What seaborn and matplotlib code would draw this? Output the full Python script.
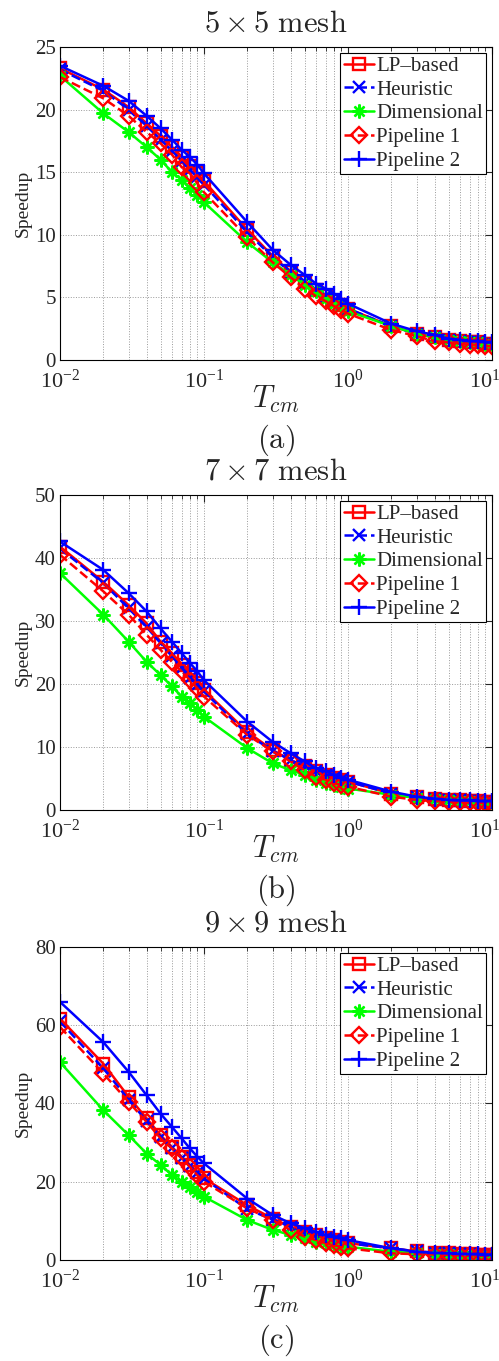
import numpy as np
import pandas as pd
import seaborn as sns
import matplotlib.pyplot as plt
import matplotlib.transforms as mtransforms
from matplotlib.ticker import LogLocator, NullFormatter

# communication time values (x axis)
t_cm = [0.01, 0.02, 0.03, 0.04, 0.05, 0.06, 0.07, 0.08, 0.09, 0.1,
        0.2, 0.3, 0.4, 0.5, 0.6, 0.7, 0.8, 0.9, 1,
        2, 3, 4, 5, 6, 7, 8, 9, 10]

series_names = ['LP\u2013based', 'Heuristic', 'Dimensional', 'Pipeline 1', 'Pipeline 2']

# 5x5 mesh
lp_5 = [23.3, 21.6, 20.2, 18.9, 17.9, 17.0, 16.2, 15.5, 14.9, 14.3,
        10.4, 8.3, 7.0, 6.2, 5.6, 5.1, 4.7, 4.4, 4.1,
        2.7, 2.1, 1.8, 1.6, 1.5, 1.4, 1.4, 1.3, 1.3]
heur_5 = [23.2, 21.5, 20.0, 18.7, 17.6, 16.7, 15.9, 15.2, 14.6, 14.0,
          10.2, 8.2, 7.0, 6.2, 5.6, 5.1, 4.7, 4.4, 4.1,
          2.7, 2.1, 1.8, 1.6, 1.5, 1.4, 1.4, 1.3, 1.3]
dim_5 = [22.7, 19.7, 18.2, 17.0, 16.0, 15.0, 14.4, 13.7, 13.2, 12.6,
         9.4, 7.8, 6.8, 6.0, 5.5, 4.9, 4.5, 4.3, 3.9,
         2.7, 2.1, 1.8, 1.6, 1.5, 1.4, 1.4, 1.3, 1.3]
pipe1_5 = [22.6, 20.9, 19.5, 18.2, 17.3, 16.4, 15.4, 14.9, 14.1, 13.4,
           9.8, 7.8, 6.6, 5.7, 5.1, 4.7, 4.3, 4.0, 3.7,
           2.4, 1.9, 1.5, 1.4, 1.3, 1.2, 1.2, 1.1, 1.1]
pipe2_5 = [23.5, 21.9, 20.7, 19.5, 18.5, 17.6, 16.8, 16.2, 15.6, 14.9,
           11.0, 8.8, 7.6, 6.8, 6.1, 5.7, 5.3, 4.9, 4.5,
           2.9, 2.3, 2.0, 1.7, 1.6, 1.5, 1.5, 1.4, 1.4]

# 7x7 mesh
lp_7 = [41.8, 36.2, 32.5, 29.6, 26.7, 24.9, 23.0, 21.4, 20.1, 19.0,
        12.4, 9.5, 7.9, 6.9, 6.1, 5.6, 5.0, 4.8, 4.5,
        2.6, 2.0, 1.7, 1.6, 1.5, 1.4, 1.4, 1.3, 1.3]
heur_7 = [41.5, 36.0, 32.0, 29.0, 26.5, 24.4, 22.6, 21.0, 19.8, 18.8,
          12.0, 9.4, 7.9, 6.9, 6.1, 5.6, 5.0, 4.8, 4.5,
          2.6, 2.0, 1.7, 1.6, 1.5, 1.4, 1.4, 1.3, 1.3]
dim_7 = [37.6, 31.0, 26.7, 23.5, 21.4, 19.6, 18.0, 16.9, 15.9, 14.8,
         9.8, 7.4, 6.3, 5.6, 4.8, 4.2, 4.0, 3.7, 3.4,
         2.4, 1.9, 1.7, 1.5, 1.4, 1.4, 1.3, 1.3, 1.3]
pipe1_7 = [40.5, 34.7, 31.0, 27.8, 25.4, 23.5, 22.0, 20.6, 19.3, 18.0,
           11.9, 9.3, 7.7, 6.3, 5.3, 4.8, 4.2, 4.0, 3.7,
           2.1, 1.6, 1.4, 1.3, 1.2, 1.2, 1.1, 1.1, 1.0]
pipe2_7 = [42.6, 38.1, 34.4, 31.5, 28.8, 26.7, 24.9, 23.3, 22.0, 20.6,
           14.0, 10.8, 9.0, 7.7, 6.6, 6.1, 5.6, 5.0, 4.8,
           2.9, 2.1, 1.8, 1.6, 1.5, 1.5, 1.4, 1.4, 1.4]

# 9x9 mesh
lp_9 = [61.7, 50.2, 41.7, 36.2, 31.9, 28.9, 26.4, 24.3, 22.6, 20.9,
        14.0, 10.6, 8.5, 7.2, 6.4, 5.5, 5.1, 4.7, 4.3,
        3.0, 2.2, 1.9, 1.7, 1.6, 1.5, 1.4, 1.4, 1.3]
heur_9 = [61.0, 49.0, 41.0, 35.5, 31.5, 28.5, 26.0, 24.0, 22.3, 20.8,
          13.0, 10.3, 8.5, 7.2, 6.4, 5.5, 5.1, 4.7, 4.3,
          3.0, 2.2, 1.9, 1.7, 1.6, 1.5, 1.4, 1.4, 1.3]
dim_9 = [50.6, 38.3, 31.9, 27.2, 24.3, 21.7, 20.0, 18.7, 17.4, 16.2,
         10.2, 7.7, 6.4, 5.5, 4.7, 4.3, 3.8, 3.4, 3.4,
         2.1, 1.8, 1.6, 1.5, 1.4, 1.4, 1.3, 1.3, 1.3]
pipe1_9 = [59.6, 47.7, 40.4, 35.3, 31.1, 28.5, 26.0, 23.8, 21.7, 20.0,
           13.2, 10.2, 7.7, 6.0, 5.1, 4.3, 3.8, 3.4, 3.0,
           1.7, 1.5, 1.4, 1.3, 1.2, 1.2, 1.1, 1.1, 1.0]
pipe2_9 = [66.0, 55.7, 48.1, 42.1, 37.4, 34.0, 31.1, 28.5, 26.4, 24.7,
           15.7, 11.5, 9.4, 8.1, 7.2, 6.4, 6.0, 5.5, 5.1,
           3.0, 2.1, 1.8, 1.7, 1.6, 1.5, 1.5, 1.4, 1.4]

panels = [
    (r'$5\times5\ \mathrm{mesh}$', r'$\mathrm{(a)}$', 25, [0, 5, 10, 15, 20, 25],
     [lp_5, heur_5, dim_5, pipe1_5, pipe2_5]),
    (r'$7\times7\ \mathrm{mesh}$', r'$\mathrm{(b)}$', 50, [0, 10, 20, 30, 40, 50],
     [lp_7, heur_7, dim_7, pipe1_7, pipe2_7]),
    (r'$9\times9\ \mathrm{mesh}$', r'$\mathrm{(c)}$', 80, [0, 20, 40, 60, 80],
     [lp_9, heur_9, dim_9, pipe1_9, pipe2_9]),
]

styles = [
    dict(color='#ff0000', marker='s', linestyle='-', markersize=8),
    dict(color='#0000ff', marker='x', linestyle='--', markersize=9),
    dict(color='#00ff00', marker=(8, 2, 0), linestyle='-', markersize=10),
    dict(color='#ff0000', marker='D', linestyle='--', markersize=8.5),
    dict(color='#0000ff', marker='+', linestyle='-', markersize=12),
]

sns.set_style('white')
plt.rcParams['font.family'] = ['Liberation Serif', 'DejaVu Serif']
plt.rcParams['mathtext.fontset'] = 'cm'

fig = plt.figure(figsize=(4.99, 13.61), dpi=100)
positions = [[0.120, 0.7355, 0.866, 0.230],
             [0.120, 0.4049, 0.866, 0.2315],
             [0.120, 0.0742, 0.866, 0.230]]

for pos, (title, tag, ymax, yticks, values) in zip(positions, panels):
    ax = fig.add_axes(pos)
    for name, vals, st in zip(series_names, values, styles):
        df = pd.DataFrame({'t': t_cm, 's': vals})
        sns.lineplot(data=df, x='t', y='s', ax=ax, label=name,
                     color=st['color'], marker=st['marker'], linestyle=st['linestyle'],
                     markersize=st['markersize'], markerfacecolor='none',
                     markeredgecolor=st['color'], markeredgewidth=1.7,
                     linewidth=1.8, sort=False)
    ax.set_xscale('log')
    ax.set_xlim(0.01, 10)
    ax.set_ylim(0, ymax)
    ax.set_yticks(yticks)
    ax.set_xticks([0.01, 0.1, 1, 10])
    ax.xaxis.set_minor_locator(LogLocator(base=10, subs=np.arange(2, 10)))
    ax.xaxis.set_minor_formatter(NullFormatter())
    ax.grid(True, which='major', linestyle=':', color='#999999', linewidth=0.7)
    ax.grid(True, which='minor', axis='x', linestyle=':', color='#999999', linewidth=0.7)
    ax.tick_params(which='both', direction='in', top=True, right=True)
    ax.tick_params(axis='y', labelsize=15, pad=3)
    ax.tick_params(axis='x', labelsize=16, pad=7)
    ax.tick_params(which='major', length=5)
    ax.tick_params(which='minor', length=3)
    # keep the last decade label inside the figure
    last = ax.get_xticklabels()[-1]
    last.set_transform(last.get_transform() +
                       mtransforms.ScaledTranslation(-7 / 100, 0, fig.dpi_scale_trans))
    for sp in ax.spines.values():
        sp.set_color('black')
        sp.set_linewidth(0.8)
    ax.set_title(title, fontsize=22, pad=11)
    ax.set_xlabel(r'$T_{cm}$', fontsize=22)
    ax.xaxis.set_label_coords(0.5, -0.075)
    ax.set_ylabel('Speedup', fontsize=14, labelpad=2)
    ax.text(0.5, -0.256, tag, transform=ax.transAxes, ha='center', va='center', fontsize=22)
    leg = ax.legend(loc='upper right', fontsize=15, frameon=True, fancybox=False,
                    edgecolor='black', framealpha=1, handlelength=1.45,
                    handletextpad=0.1, borderpad=0.15, labelspacing=0.2,
                    borderaxespad=0.3)
    leg.get_frame().set_linewidth(0.8)

fig.savefig('out.png', dpi=100)
